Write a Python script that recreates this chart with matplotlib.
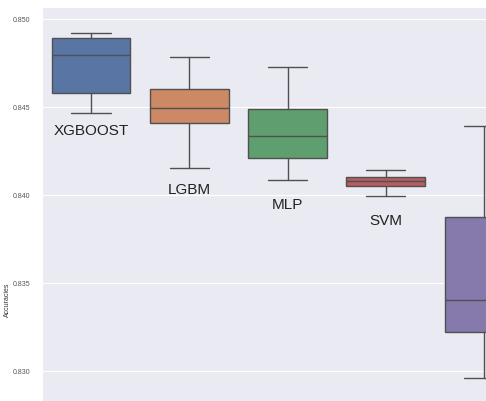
import matplotlib
matplotlib.use("Agg")
import matplotlib.pyplot as plt
import seaborn as sns

# Accuracy distributions per model (box-plot summary statistics)
models = ["XGBOOST", "LGBM", "MLP", "SVM", ""]
whisker_low = [0.84468, 0.84155, 0.84085, 0.83994, 0.82962]
q1 = [0.84578, 0.84411, 0.84209, 0.84051, 0.83223]
median = [0.84794, 0.84496, 0.84335, 0.84080, 0.83402]
q3 = [0.84890, 0.84604, 0.84489, 0.84104, 0.83877]
whisker_high = [0.84922, 0.84782, 0.84726, 0.84144, 0.84390]

# Where each model name sits under its box
label_y = [0.84369, 0.84034, 0.83949, 0.83855, 0.0]

# seaborn "deep" colours at 0.75 saturation
palette = ["#5975A4", "#CC8963", "#5F9E6E", "#B55D60", "#857AAB"]
line_gray = "#505050"

sns.set_style("darkgrid")
plt.rcParams["font.family"] = ["Liberation Sans", "DejaVu Sans"]

fig = plt.figure(figsize=(4.86, 4.02), dpi=100)
ax = fig.add_axes([42 / 486, (402 - 592) / 402, 491 / 486, 584 / 402])

stats = []
for i, name in enumerate(models):
    stats.append(dict(label=name, whislo=whisker_low[i], q1=q1[i], med=median[i],
                      q3=q3[i], whishi=whisker_high[i], fliers=[]))

bp = ax.bxp(stats, positions=range(len(models)), widths=0.8, patch_artist=True,
            showfliers=False,
            boxprops=dict(edgecolor=line_gray, linewidth=1.0),
            medianprops=dict(color=line_gray, linewidth=1.0),
            whiskerprops=dict(color=line_gray, linewidth=1.0),
            capprops=dict(color=line_gray, linewidth=1.0))
for patch, c in zip(bp["boxes"], palette):
    patch.set_facecolor(c)

for i, name in enumerate(models):
    if name:
        ax.text(i, label_y[i], name, ha="center", va="center", fontsize=11,
                color="#222222")

ax.set_xlim(-0.5, len(models) - 0.5)
ax.set_ylim(0.8175, 0.85068)
ax.set_yticks([0.830, 0.835, 0.840, 0.845, 0.850])
ax.set_yticklabels(["0.830", "0.835", "0.840", "0.845", "0.850"])
ax.set_xticks([])
ax.tick_params(axis="y", labelsize=5, colors="#555555", pad=5)
ax.set_ylabel("Accuracies", fontsize=5, color="#333333")
ax.yaxis.set_label_coords(-0.063, 0.5)
ax.grid(axis="y", color="white", linewidth=0.8)

fig.savefig("out.png", dpi=100)
